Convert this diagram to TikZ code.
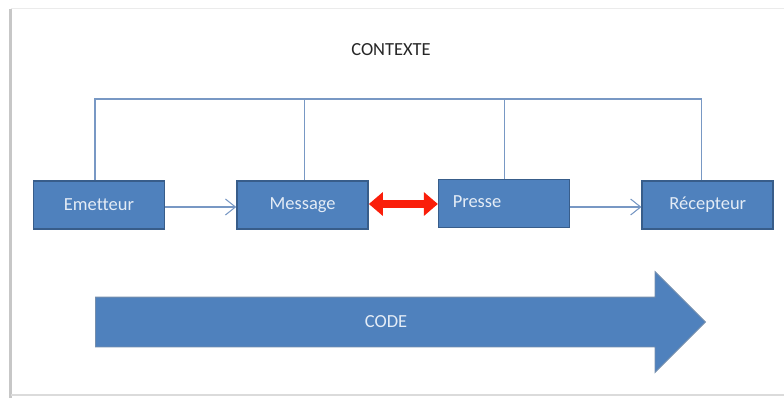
\documentclass[tikz,border=0pt]{standalone}
\usepackage{fontspec}
\setmainfont{Carlito}[Ligatures=NoCommon]
\usepackage{xcolor}
\usetikzlibrary{positioning}
\usetikzlibrary{arrows.meta}
\usetikzlibrary{shapes.arrows}

\definecolor{boxblue}{RGB}{79,129,189}
\definecolor{boxedge}{RGB}{56,93,138}
\definecolor{linkblue}{RGB}{120,152,196}
\definecolor{txtblue}{RGB}{228,236,246}
\definecolor{hotred}{RGB}{250,30,10}

\tikzset{
  block/.style={rectangle, fill=boxblue, draw=boxedge, line width=0.9pt,
    minimum width=2.62cm, minimum height=0.96cm, text=txtblue,
    font=\fontsize{10.5}{12}\selectfont},
  link/.style={draw=linkblue, line width=0.6pt},
  flow/.style={link, -{Straight Barb[length=0.2cm,width=0.32cm]}},
  both/.style={draw=hotred, line width=4pt,
    {Triangle[length=0.28cm,width=0.46cm]}-{Triangle[length=0.28cm,width=0.46cm]}},
  frame/.style={draw=black!22, line width=1.2pt}
}

\begin{document}
\begin{tikzpicture}

    \useasboundingbox (0,0) rectangle (15.68,-7.96);

    % page edge
    \draw[frame] (0.21,-7.96) -- (0.21,-0.18);
    \draw[draw=black!8, line width=0.8pt] (0.21,-0.17) -- (15.68,-0.17);
    \draw[draw=black!14, line width=0.8pt] (0.21,-7.9) -- (15.68,-7.9);

    % Define nodes
    \node[block] (emetteur) at (1.98,-4.10) {Emetteur};
    \node[block, right=1.42cm of emetteur] (message) {Message};
    \node[block, right=1.38cm of message, yshift=0.03cm, text width=2.3cm, align=left] (presse) {\raisebox{0.06cm}{~Presse}};
    \node[block, right=1.42cm of presse, yshift=-0.03cm] (recepteur) {Récepteur};
    \node[text=black!85, font=\fontsize{10.5}{12}\selectfont] (contexte) at (7.82,-1.0) {CONTEXTE};
    \coordinate (ctx) at (0,-1.98);

    \node[single arrow, fill=boxblue, draw=boxedge!70, line width=0.5pt,
      minimum height=12.2cm, minimum width=2cm, single arrow head extend=0.51cm,
      anchor=tail, inner xsep=0pt, inner ysep=0.49cm] (code) at (1.9,-6.44) {};
    \node[text=txtblue, font=\fontsize{10.5}{12}\selectfont] (codelbl) at (7.72,-6.44) {CODE};

    % Connect the nodes
    \draw[link] ([xshift=-0.08cm]emetteur.north) |- ([xshift=-0.12cm]recepteur.north |- ctx) -- ([xshift=-0.12cm]recepteur.north);
    \draw[link] ([xshift=0.04cm]message.north) -- ([xshift=0.04cm]message.north |- ctx);
    \draw[link] (presse.north) -- (presse.north |- ctx);
    \draw[flow] (emetteur.east |- 0,-4.14) -- (message.west |- 0,-4.14);
    \draw[flow] (presse.east |- 0,-4.14) -- (recepteur.west |- 0,-4.14);
    \draw[both] (message.east |- 0,-4.08) -- (presse.west |- 0,-4.08);

\end{tikzpicture}
\end{document}
